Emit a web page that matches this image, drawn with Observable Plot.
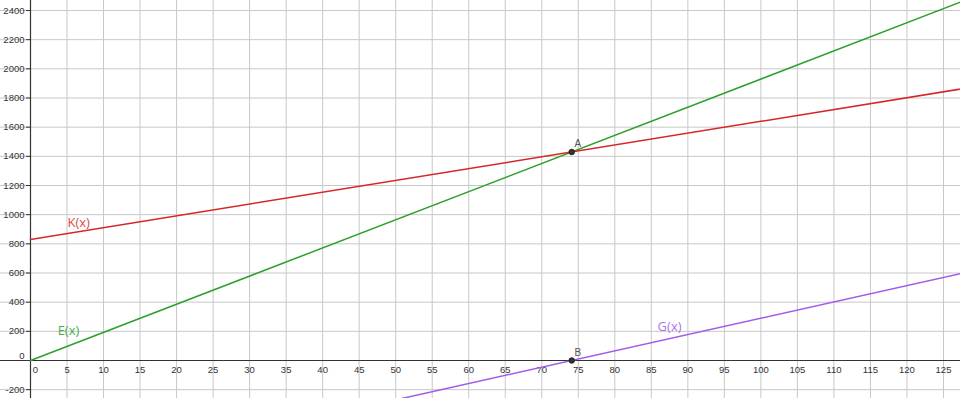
<!DOCTYPE html>
<html>
<head>
<meta charset="utf-8">
<script src="https://cdn.jsdelivr.net/npm/d3@7"></script>
<script src="https://cdn.jsdelivr.net/npm/@observablehq/plot@0.6"></script>
<style>
  html, body { margin: 0; padding: 0; background: #fff; }
  #chart svg { display: block; }
</style>
</head>
<body>
<div id="chart"></div>
<script>
// Tick values
const xTicks = d3.range(0, 130, 5);
const yTicks = d3.range(-200, 2600, 200);

// Function names and end points
const funcNames = ["E(x)", "K(x)", "G(x)"];
const funcColors = ["#2ca02c", "#d62728", "#a05ce8"];
const lineStartX = [0, 0, 0];
const lineStartY = [0, 830, -830];
const lineEndX = [130, 130, 130];
const lineEndY = [2509, 1883, 626];

// Function label anchor points
const labelX = [5.2, 6.6, 87.5];
const labelY = [206, 946, 233];

// Special points
const pointNames = ["A", "B"];
const pointX = [74.1, 74.1];
const pointY = [1430, 0];

const segments = funcNames.flatMap((name, i) => [
  {name, x: lineStartX[i], y: lineStartY[i]},
  {name, x: lineEndX[i], y: lineEndY[i]}
]);
const labels = funcNames.map((name, i) => ({name, x: labelX[i], y: labelY[i], color: funcColors[i]}));
const points = pointNames.map((name, i) => ({name, x: pointX[i], y: pointY[i]}));

const font = "'Liberation Sans', Arial, sans-serif";
const yNonZero = yTicks.filter(d => d !== 0);
const xNonZero = xTicks.filter(d => d !== 0);

const chart = Plot.plot({
  width: 960,
  height: 398,
  margin: 0,
  style: {background: "#fff", fontFamily: font},
  x: {type: "linear", domain: [-4.107, 127.33], axis: null},
  y: {type: "linear", domain: [-260.6, 2468.6], axis: null},
  color: {domain: funcNames, range: funcColors},
  marks: [
    Plot.ruleX(xNonZero, {stroke: "#c8c8c8", strokeWidth: 1, strokeOpacity: 1}),
    Plot.ruleY(yNonZero, {stroke: "#c8c8c8", strokeWidth: 1, strokeOpacity: 1}),
    Plot.ruleX([0], {stroke: "#333", strokeWidth: 1.2}),
    Plot.ruleY([0], {stroke: "#333", strokeWidth: 1.2}),
    Plot.ruleY(yNonZero, {y: d => d, x1: -0.55, x2: 0, stroke: "#333", strokeWidth: 1}),
    Plot.text(yNonZero, {x: 0, y: d => d, text: d => String(d), textAnchor: "end", dx: -6, fontSize: 9.5, fill: "#333"}),
    Plot.text([0], {x: 0, y: 0, text: d => String(d), textAnchor: "end", dx: -6, dy: -5, fontSize: 9.5, fill: "#333"}),
    Plot.text(xNonZero, {x: d => d, y: 0, text: d => String(d), dy: 9, fontSize: 9.5, fill: "#333"}),
    Plot.text([0], {x: 0, y: 0, text: d => String(d), dx: 5, dy: 9, fontSize: 9.5, fill: "#333"}),
    Plot.line(segments, {x: "x", y: "y", z: "name", stroke: "name", strokeWidth: 1.5, clip: true}),
    Plot.text(labels, {x: "x", y: "y", text: "name", fill: "color", fontSize: 13, fontFamily: "'Open Sans', 'Noto Sans', sans-serif", opacity: 0.85}),
    Plot.dot(points, {x: "x", y: "y", r: 2.8, fill: "#333", stroke: "#111", strokeWidth: 0.8}),
    Plot.text(points, {x: "x", y: "y", text: "name", dx: 6, dy: -8, fontSize: 10, fill: "#555"})
  ]
});
document.getElementById("chart").appendChild(chart);
</script>
</body>
</html>
